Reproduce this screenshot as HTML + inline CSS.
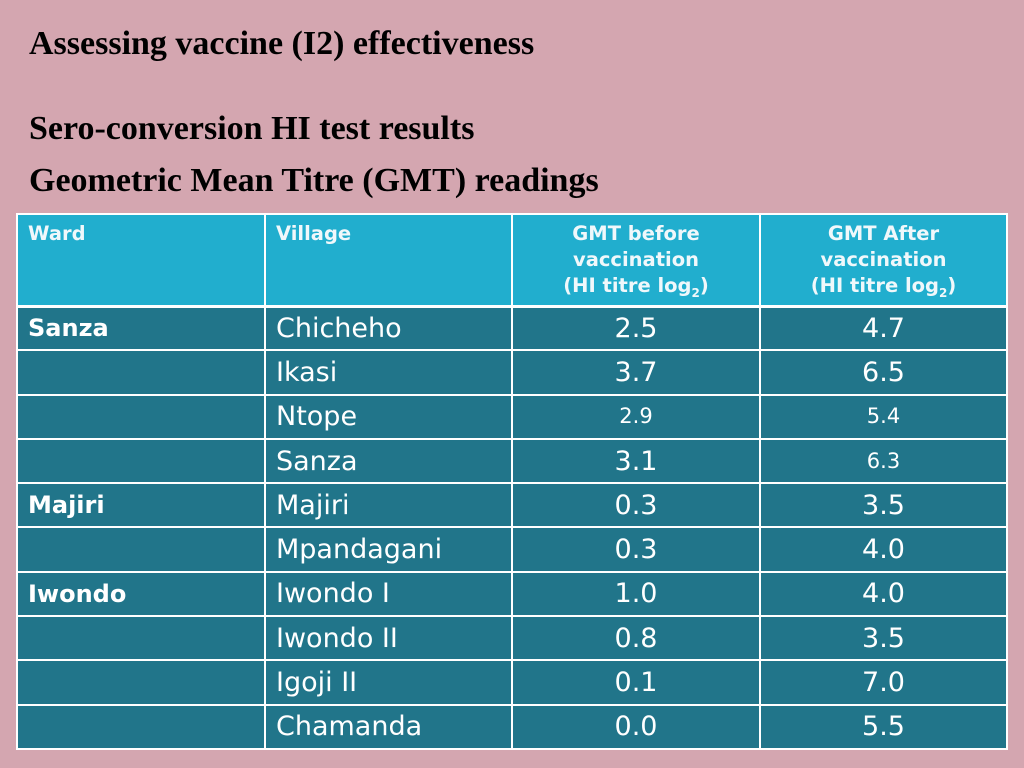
<!DOCTYPE html>
<html><head><style>
body{margin:0;width:1024px;height:768px;background:#d4a6b0;position:relative;overflow:hidden;font-family:"Liberation Serif",serif}
.t{position:absolute;left:29px;font-weight:bold;font-size:34px;color:#000}
table{position:absolute;left:16px;top:213px;border-collapse:collapse;font-family:"DejaVu Sans","Liberation Sans",sans-serif;table-layout:fixed}
td{border:2px solid #fff;padding:0 0 0 10px;color:#fff;font-size:27px;height:44.3px;box-sizing:border-box;vertical-align:middle;background:#21758a;line-height:1}
tr.h td{background:#21aece;height:92px;vertical-align:top;font-size:19.5px;font-weight:bold;padding-top:6px;border-bottom:3px solid #fff;line-height:26px;color:#f0f8fb}
td.c{text-align:center;padding:0;font-size:27px}
td.w{font-weight:bold;font-size:24px}
td.s{font-size:21px}
sub{line-height:0}
</style></head><body>
<div class="t" style="top:25px">Assessing vaccine (I2) effectiveness</div>
<div class="t" style="top:110px">Sero-conversion HI test results</div>
<div class="t" style="top:162px">Geometric Mean Titre (GMT) readings</div>
<table>
<colgroup><col style="width:248px"><col style="width:247px"><col style="width:248px"><col style="width:247px"></colgroup>
<tr class="h"><td>Ward</td><td>Village</td><td class="c" style="font-size:19.5px">GMT before<br>vaccination<br>(HI titre log<sub style="font-size:12px">2</sub>)</td><td class="c" style="font-size:19.5px">GMT After<br>vaccination<br>(HI titre log<sub style="font-size:12px">2</sub>)</td></tr>
<tr><td class="w">Sanza</td><td>Chicheho</td><td class="c">2.5</td><td class="c">4.7</td></tr>
<tr><td></td><td>Ikasi</td><td class="c">3.7</td><td class="c">6.5</td></tr>
<tr><td></td><td>Ntope</td><td class="c s">2.9</td><td class="c s">5.4</td></tr>
<tr><td></td><td>Sanza</td><td class="c">3.1</td><td class="c s">6.3</td></tr>
<tr><td class="w">Majiri</td><td>Majiri</td><td class="c">0.3</td><td class="c">3.5</td></tr>
<tr><td></td><td>Mpandagani</td><td class="c">0.3</td><td class="c">4.0</td></tr>
<tr><td class="w">Iwondo</td><td>Iwondo I</td><td class="c">1.0</td><td class="c">4.0</td></tr>
<tr><td></td><td>Iwondo II</td><td class="c">0.8</td><td class="c">3.5</td></tr>
<tr><td></td><td>Igoji II</td><td class="c">0.1</td><td class="c">7.0</td></tr>
<tr><td></td><td>Chamanda</td><td class="c">0.0</td><td class="c">5.5</td></tr>
</table>
</body></html>
